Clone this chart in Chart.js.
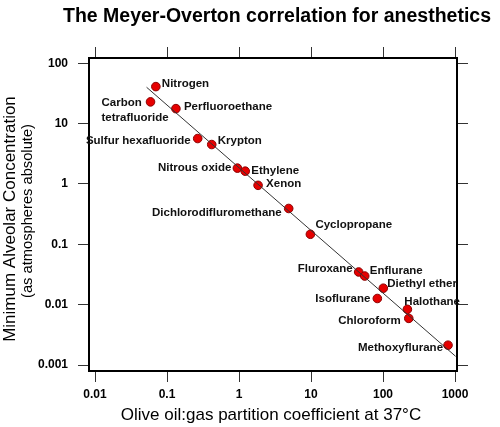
<!DOCTYPE html>
<html>
<head>
<meta charset="utf-8">
<script src="https://cdn.jsdelivr.net/npm/chart.js@4/dist/chart.umd.min.js"></script>
<style>
  html, body { margin: 0; padding: 0; background: #fff; }
  #wrap { width: 500px; height: 427px; }
</style>
</head>
<body>
<div id="wrap"><canvas id="chart" width="500" height="427"></canvas></div>
<script>
// anesthetics, olive oil:gas partition coefficient and MAC (atm)
var agentNames = ['Nitrogen', 'Carbon\ntetrafluoride', 'Perfluoroethane', 'Sulfur hexafluoride', 'Krypton',
    'Nitrous oxide', 'Ethylene', 'Xenon', 'Dichlorodifluromethane', 'Cyclopropane', 'Fluroxane',
    'Enflurane', 'Diethyl ether', 'Isoflurane', 'Halothane', 'Chloroform', 'Methoxyflurane'];
var oilGas = [0.070, 0.059, 0.133, 0.267, 0.418, 0.95, 1.22, 1.84, 4.9, 9.8, 45.9, 55.7, 101, 83.4, 218, 228, 800];
var macAtm = [41, 22.9, 17.7, 5.66, 4.5, 1.83, 1.63, 0.95, 0.393, 0.147, 0.0349, 0.0299, 0.0188, 0.0127, 0.0084, 0.00595, 0.00214];

// fitted line ends
var fitX = [0.052, 1020];
var fitY = [40, 0.0014];

var xTickValues = [0.01, 0.1, 1, 10, 100, 1000];
var xTickLabels = ['0.01', '0.1', '1', '10', '100', '1000'];
var yTickValues = [0.001, 0.01, 0.1, 1, 10, 100];
var yTickLabels = ['0.001', '0.01', '0.1', '1', '10', '100'];

// where each label sits next to its point: dx, dy, align
var labelPlace = [
    [6, -3, 'left'], [-49, 1, 'left'], [8, -2, 'left'], [-7, 2, 'right'], [6, -4, 'left'],
    [-6, 0, 'right'], [6, 0, 'left'], [8, -2, 'left'], [-7, 4, 'right'], [5, -9, 'left'],
    [-6, -3, 'right'], [5, -5, 'left'], [4, -4, 'left'], [-7, 0, 'right'], [-3, -8, 'left'],
    [-8, 2, 'right'], [-5, 3, 'right']
];

var FONT = '"Liberation Sans", Arial, sans-serif';

var pts = [];
for (var i = 0; i < oilGas.length; i++) {
    pts.push({ x: oilGas[i], y: macAtm[i] });
}
var fitPts = [{ x: fitX[0], y: fitY[0] }, { x: fitX[1], y: fitY[1] }];

function decadeTicks(values) {
    return function (scale) {
        scale.ticks = values.map(function (v) { return { value: v }; });
    };
}

function tickAxis(pos, values, labels, size) {
    var horiz = (pos == 'top' || pos == 'bottom');
    var showLabels = (pos == 'bottom' || pos == 'left');
    return {
        type: 'logarithmic',
        position: pos,
        min: horiz ? 0.00825 : 0.0008,
        max: horiz ? 1066 : 122,
        afterBuildTicks: decadeTicks(values),
        afterFit: function (scale) {
            if (horiz) scale.height = size; else scale.width = size;
        },
        ticks: {
            display: showLabels,
            autoSkip: false,
            maxRotation: 0,
            color: '#000',
            padding: horiz ? 5 : 10,
            font: { family: FONT, size: 12, weight: 'bold' },
            callback: function (value, index) { return labels[index]; }
        },
        grid: { drawOnChartArea: false, tickLength: 11, color: '#333', lineWidth: 1 },
        border: { display: true, color: '#000', width: 2 }
    };
}

var textPlugin = {
    id: 'textPlugin',
    afterDatasetsDraw: function (chart) {
        var ctx = chart.ctx;
        var meta = chart.getDatasetMeta(1);
        ctx.save();
        ctx.fillStyle = '#111';
        ctx.font = 'bold 11.5px ' + FONT;
        ctx.textBaseline = 'middle';
        for (var i = 0; i < meta.data.length; i++) {
            var p = meta.data[i];
            var lp = labelPlace[i];
            ctx.textAlign = lp[2];
            var lines = agentNames[i].split('\n');
            for (var j = 0; j < lines.length; j++) {
                ctx.fillText(lines[j], p.x + lp[0], p.y + lp[1] + j * 14.5);
            }
        }
        ctx.restore();
    },
    afterDraw: function (chart) {
        var ctx = chart.ctx;
        ctx.save();
        ctx.fillStyle = '#000';
        ctx.textAlign = 'center';
        ctx.textBaseline = 'middle';
        ctx.font = 'bold 19.5px ' + FONT;
        ctx.fillText('The Meyer-Overton correlation for anesthetics', 277, 17);

        ctx.font = '17px ' + FONT;
        ctx.fillText('Olive oil:gas partition coefficient at 37\u00B0C', 271, 415);

        ctx.textBaseline = 'alphabetic';
        ctx.save();
        ctx.translate(14.5, 219);
        ctx.rotate(-Math.PI / 2);
        ctx.font = '17px ' + FONT;
        ctx.fillText('Minimum Alveolar Concentration', 0, 0);
        ctx.restore();

        ctx.save();
        ctx.translate(32, 211);
        ctx.rotate(-Math.PI / 2);
        ctx.font = '14.7px ' + FONT;
        ctx.fillText('(as atmospheres absolute)', 0, 0);
        ctx.restore();
        ctx.restore();
    }
};

new Chart(document.getElementById('chart'), {
    type: 'scatter',
    data: {
        datasets: [
            {
                type: 'line',
                data: fitPts,
                borderColor: '#333',
                borderWidth: 1,
                pointRadius: 0,
                fill: false
            },
            {
                data: pts,
                backgroundColor: '#e60000',
                borderColor: '#8a0000',
                borderWidth: 1,
                pointRadius: 4.3
            }
        ]
    },
    options: {
        responsive: false,
        animation: false,
        events: [],
        layout: { padding: 0, autoPadding: false },
        plugins: { legend: { display: false }, tooltip: { enabled: false } },
        scales: {
            x: tickAxis('bottom', xTickValues, xTickLabels, 56),
            x2: tickAxis('top', xTickValues, xTickLabels, 58),
            y: tickAxis('left', yTickValues, yTickLabels, 89),
            y2: tickAxis('right', yTickValues, yTickLabels, 43)
        }
    },
    plugins: [textPlugin]
});
</script>
</body>
</html>
